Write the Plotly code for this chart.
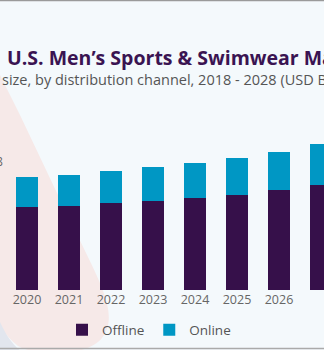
import plotly.graph_objects as go

# ---- data (USD Billion) ----
years = [2018, 2019, 2020, 2021, 2022, 2023, 2024, 2025, 2026, 2027, 2028]
offline = [27.9, 28.6, 27.7, 27.9, 29.0, 29.7, 30.7, 31.8, 33.3, 35.1, 36.9]
online = [9.5, 10.2, 10.1, 10.3, 10.7, 11.2, 11.6, 12.1, 12.7, 13.5, 14.3]
label_year = 2019
label_text = "38.8"

title_text = "U.S. Men’s Sports & Swimwear Market"
subtitle_text = "size, by distribution channel, 2018 - 2028 (USD Billion)"

W, H = 324, 350
ML, MR, MT, MB = 0, 0, 0, 60
PW, PH = W - ML - MR, H - MT - MB

OFF_C = "#36104A"
ON_C = "#0097C4"
BG = "#F4F9FC"


def px(x):
    return (x - ML) / PW


def py(y):
    return (MT + PH - y) / PH


def path(points_cmds):
    out = []
    for cmd, pts in points_cmds:
        s = cmd
        s += " ".join(f"{px(x):.4f},{py(y):.4f}" for x, y in pts)
        out.append(s)
    return " ".join(out) + " Z"


pink = path([
    ("M", [(-80, -20)]),
    ("L", [(0, 75)]),
    ("L", [(20, 115)]),
    ("L", [(57, 193)]),
    ("L", [(87, 255)]),
    ("C", [(103, 288), (118, 318), (102, 338)]),
    ("C", [(88, 356), (40, 358), (18, 346)]),
    ("C", [(5, 336), (-5, 320), (-20, 300)]),
])
corner = path([
    ("M", [(0, 322)]),
    ("C", [(6, 335), (12, 344), (22, 352)]),
    ("L", [(0, 352)]),
])

totals = {y: a + b for y, a, b in zip(years, offline, online)}

fig = go.Figure()
fig.add_trace(go.Bar(x=years, y=offline, name="Offline", marker=dict(color=OFF_C, line=dict(width=0)), width=0.53))
fig.add_trace(go.Bar(x=years, y=online, name="Online", marker=dict(color=ON_C, line=dict(width=0)), width=0.53))

x0 = 2020 - 27 / 42
x1 = x0 + PW / 42

fig.update_layout(
    width=W, height=H,
    margin=dict(l=ML, r=MR, t=MT, b=MB, pad=0),
    paper_bgcolor=BG, plot_bgcolor="rgba(0,0,0,0)",
    barmode="stack",
    showlegend=True,
    legend=dict(orientation="h", x=px(149), xanchor="center", y=py(330), yanchor="middle",
                font=dict(family="Open Sans", size=13.5, color="#555555"),
                bgcolor="rgba(0,0,0,0)", itemwidth=30, traceorder="normal"),
    xaxis=dict(range=[x0, x1], tickmode="array", tickvals=years, ticktext=[str(y) for y in years],
               showgrid=False, zeroline=False, showline=False, ticks="",
               tickfont=dict(family="Open Sans", size=12.5, color="#666666"), fixedrange=True),
    yaxis=dict(range=[0, PH / 3.0], visible=False, showgrid=False, zeroline=False, fixedrange=True),
    shapes=[
        dict(type="path", path=pink, xref="paper", yref="paper", fillcolor="#F6E9E8", line=dict(width=0), layer="below"),
        dict(type="path", path=corner, xref="paper", yref="paper", fillcolor="#E2E6EE", line=dict(width=0), layer="below"),
        dict(type="line", xref="paper", yref="paper", x0=px(-5), x1=px(W + 5), y0=py(0.5), y1=py(0.5),
             line=dict(color="#9A9A9A", width=1.5)),
        dict(type="line", xref="paper", yref="paper", x0=px(-5), x1=px(W + 5), y0=py(348.5), y1=py(348.5),
             line=dict(color="#AAAAAA", width=1.5)),
    ],
    annotations=[
        dict(text=title_text, xref="paper", yref="paper", x=px(5), y=py(58), xanchor="left", yanchor="middle",
             showarrow=False, font=dict(family="Open Sans", size=19.5, color="#3A1452", weight="bold")),
        dict(text=subtitle_text, xref="paper", yref="paper", x=px(0), y=py(79), xanchor="left", yanchor="middle",
             showarrow=False, font=dict(family="Open Sans", size=14.5, color="#555555")),
        dict(text=label_text, x=(label_year - x0) / (x1 - x0), y=totals[label_year], xref="paper", yref="y",
             xanchor="right", yanchor="bottom", xshift=20, yshift=2, showarrow=False,
             font=dict(family="Open Sans", size=12, color="#666666")),
    ],
)

fig.write_html("out.html")
